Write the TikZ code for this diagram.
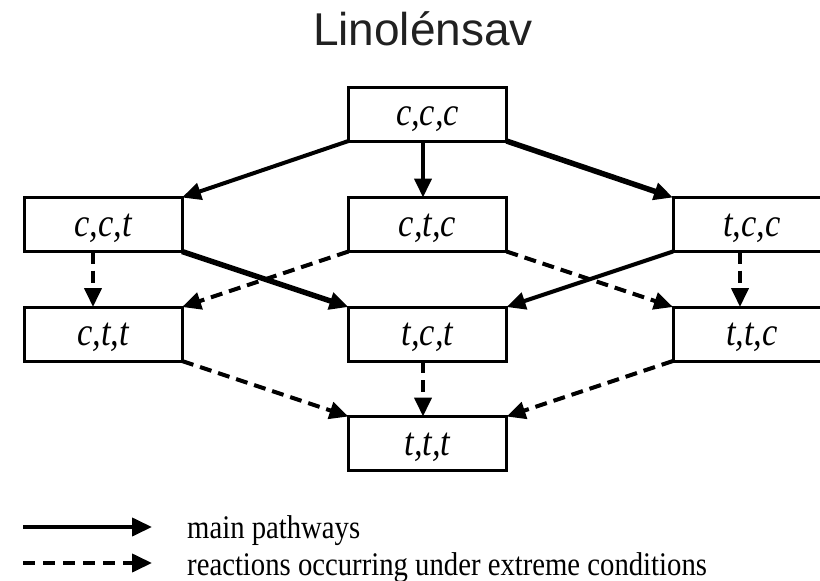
\documentclass[tikz,border=0pt]{standalone}
\usepackage{fontspec}
\usepackage{graphicx}
\setmainfont{Liberation Serif}
\newfontfamily\titlefont{Liberation Sans}
\usetikzlibrary{arrows.meta}
\newcommand{\boxlab}[1]{\scalebox{0.86}[1]{#1}}
\newcommand{\leglab}[1]{\scalebox{0.87}[1]{#1}}
\begin{document}
\begin{tikzpicture}[x=1pt,y=-1pt,
  box/.style={draw,line width=3pt,minimum width=158pt,minimum height=54pt,inner sep=0pt,outer sep=0pt,text height=23pt,text depth=0pt,font=\fontsize{40}{40}\selectfont\itshape},
  solidarr/.style={line width=4pt,-{Triangle[length=19pt,width=17pt]}},
  thickarr/.style={line width=5.5pt,-{Triangle[length=19pt,width=17pt]}},
  dasharr/.style={line width=4pt,dash pattern=on 12pt off 7pt,-{Triangle[length=19pt,width=17pt]}},
  legtext/.style={anchor=base west,inner sep=0pt,font=\fontsize{33}{33}\selectfont}
]
\useasboundingbox (0,0) rectangle (820,581);
\node[font=\titlefont\fontsize{46}{46}\selectfont,text=black!87,anchor=base,inner sep=0pt] (title) at (423,45) {Linolénsav};
\node[box] (ccc) at (427.5,114) {\boxlab{c,c,c}};
\node[box] (cct) at (103,224.5) {\boxlab{c,c,t}};
\node[box] (ctc) at (427.5,224.5) {\boxlab{c,t,c}};
\node[box] (tcc) at (752,224.5) {\boxlab{t,c,c}};
\node[box] (ctt) at (103,334) {\boxlab{c,t,t}};
\node[box] (tct) at (427.5,334) {\boxlab{t,c,t}};
\node[box] (ttc) at (752,334) {\boxlab{t,t,c}};
\node[box] (ttt) at (427.5,443.5) {\boxlab{t,t,t}};
% solid
\draw[solidarr] (ccc.south west) -- (cct.north east);
\draw[solidarr] (ccc.south -| 423,0) -- (ctc.north -| 423,0);
\draw[thickarr] (ccc.south east) -- (tcc.north west);
\draw[thickarr] (cct.south east) -- (tct.north west);
\draw[solidarr] (tcc.south west) -- (tct.north east);
% dashed
\draw[dasharr] (ctc.south west) -- (ctt.north east);
\draw[dasharr] (ctc.south east) -- (ttc.north west);
\draw[dasharr] (cct.south -| 93,0) -- (ctt.north -| 93,0);
\draw[dasharr] (tcc.south -| 740,0) -- (ttc.north -| 740,0);
\draw[dasharr] (ctt.south east) -- (ttt.north west);
\draw[dasharr] (tct.south -| 423,0) -- (ttt.north -| 423,0);
\draw[dasharr] (ttc.south west) -- (ttt.north east);
% legend
\coordinate (l1a) at (23,527);
\coordinate (l1b) at (152,527);
\coordinate (l2a) at (23,563);
\coordinate (l2b) at (152,563);
\draw[line width=4pt,-{Triangle[length=20pt,width=18pt]}] (l1a) -- (l1b);
\draw[line width=4pt,dash pattern=on 12pt off 8pt,-{Triangle[length=20pt,width=18pt]}] (l2a) -- (l2b);
\node[legtext] (t1) at (187,538) {\leglab{main pathways}};
\node[legtext] (t2) at (187,575) {\leglab{reactions occurring under extreme conditions}};
\end{tikzpicture}
\end{document}
